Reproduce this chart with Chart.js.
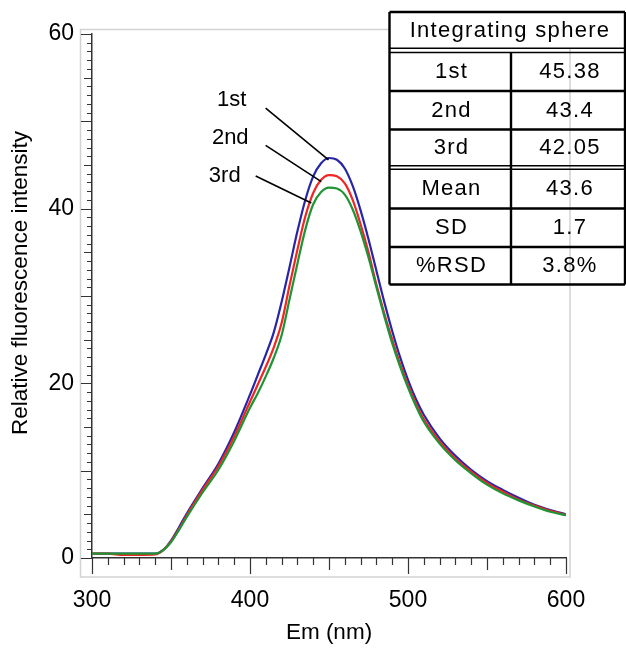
<!DOCTYPE html>
<html><head><meta charset="utf-8">
<script src="https://cdn.jsdelivr.net/npm/chart.js@4.4.1/dist/chart.umd.min.js"></script>
<style>html,body{margin:0;padding:0;background:#fff}#wrap{width:626px;height:648px;position:relative}</style>
</head><body><div id="wrap"><canvas id="c" width="626" height="648"></canvas></div>
<script>
// ---- data ----
const wavelengths = [300,310,320,330,340,345,350,355,360,370,380,390,400,405,410,415,420,425,430,435,440,445,450,455,460,465,470,475,480,485,490,495,500,505,510,520,530,540,550,560,570,580,590,600];
const run1st = [0.5,0.5,0.5,0.5,0.5,0.9,2.0,3.5,5.1,8.0,10.8,14.4,18.7,21.0,23.3,25.8,29.3,33.3,37.4,41.0,43.7,45.2,45.8,45.6,44.6,42.6,39.8,36.5,32.9,29.3,26.0,23.0,20.4,18.2,16.4,13.7,11.7,10.1,8.8,7.8,6.9,6.1,5.5,5.0];
const run2nd = [0.5,0.5,0.35,0.35,0.4,0.9,1.9,3.3,4.9,7.8,10.5,13.9,17.9,19.9,21.9,24.1,26.9,31.2,35.3,39.1,41.8,43.3,43.85,43.7,42.9,41.0,38.2,35.0,31.3,28.0,25.0,22.2,19.8,17.7,15.9,13.35,11.4,9.9,8.6,7.6,6.7,6.0,5.4,4.95];
const run3rd = [0.5,0.5,0.5,0.5,0.5,0.9,1.8,3.2,4.7,7.5,10.1,13.4,17.2,18.9,20.8,22.9,25.5,29.6,33.7,37.6,40.5,41.9,42.4,42.3,41.6,39.9,37.4,34.4,31.0,27.7,24.6,21.9,19.5,17.4,15.6,13.1,11.2,9.7,8.4,7.4,6.6,5.9,5.3,4.9];
const seriesNames = ['1st','2nd','3rd'];
const xTickLabels = [300,400,500,600];
const yTickLabels = [0,20,40,60];
const xTitle = 'Em (nm)';
const yTitle = 'Relative fluorescence intensity';
const tableHeader = 'Integrating sphere';
const tableRunNames = ['1st','2nd','3rd'];
const tableRunValues = ['45.38','43.4','42.05'];
const tableStatNames = ['Mean','SD','%RSD'];
const tableStatValues = ['43.6','1.7','3.8%'];

// ---- style / layout ----
const FONT = "'Liberation Sans', Arial, sans-serif";
const colors = ['#2626a6','#f22424','#1f9434'];
const callouts = [ // data-unit anchors for labels and leader lines
  {text:[388.4,52.4], from:[409.9,51.5], to:[449.7,45.6]},
  {text:[387.5,48.1], from:[409.9,47.25], to:[445.1,43.1]},
  {text:[384.0,43.8], from:[403.6,43.75], to:[438.8,40.65]}
];

const toPts = arr => wavelengths.map((w,i)=>({x:w,y:arr[i]}));
const runs = [run1st, run2nd, run3rd];

const decor = {
  id:'decor',
  beforeDraw(chart){
    const ctx = chart.ctx;
    ctx.save();
    ctx.fillStyle='#fff'; ctx.fillRect(0,0,chart.width,chart.height);
    ctx.strokeStyle='#d2d2d2'; ctx.lineWidth=1.5;
    ctx.strokeRect(80.5,29.5,489.5,547.5);
    ctx.restore();
  },
  afterDraw(chart){
    const {ctx, scales:{x,y}} = chart;
    ctx.save();
    // y axis title
    ctx.save();
    ctx.fillStyle='#000'; ctx.font='22.5px '+FONT; ctx.textAlign='center'; ctx.textBaseline='middle';
    ctx.translate(20.5, 283); ctx.rotate(-Math.PI/2);
    ctx.fillText(yTitle, 0, 0);
    ctx.restore();
    // tick marks
    ctx.strokeStyle='#333'; ctx.lineWidth=1.2;
    ctx.beginPath();
    for (let v=x.min; v<=x.max; v+=10){
      const px=Math.round(x.getPixelForValue(v))+0.5;
      const len = v%100===0?16:(v%50===0?12:7);
      ctx.moveTo(px,y.bottom); ctx.lineTo(px,y.bottom+len);
    }
    for (let v=y.min; v<=y.max; v+=1){
      const py=Math.round(y.getPixelForValue(v))+0.5;
      const len = v%10===0?11:(v%5===0?8:5);
      ctx.moveTo(x.left-len,py); ctx.lineTo(x.left,py);
    }
    ctx.stroke();
    // callouts
    ctx.strokeStyle='#000'; ctx.lineWidth=1.6; ctx.fillStyle='#000';
    ctx.font = '22px '+FONT; ctx.textAlign='center'; ctx.textBaseline='middle';
    callouts.forEach((c,i)=>{
      ctx.beginPath();
      ctx.moveTo(x.getPixelForValue(c.from[0]), y.getPixelForValue(c.from[1]));
      ctx.lineTo(x.getPixelForValue(c.to[0]), y.getPixelForValue(c.to[1]));
      ctx.stroke();
      ctx.fillText(seriesNames[i], x.getPixelForValue(c.text[0]), y.getPixelForValue(c.text[1]));
    });
    // table
    const L=389.5, M=511, R=625, top=12;
    ctx.fillStyle='#fff'; ctx.fillRect(L,top,R-L,36.5);
    ctx.strokeStyle='#000';
    ctx.lineWidth=2.4;
    ctx.beginPath();
    ctx.moveTo(L,top); ctx.lineTo(R,top);
    ctx.moveTo(L,top); ctx.lineTo(L,284.5);
    ctx.moveTo(R,top); ctx.lineTo(R,284.5);
    ctx.moveTo(L,284.5); ctx.lineTo(R,284.5);
    ctx.moveTo(M,52.5); ctx.lineTo(M,284.5);
    [91,129.5,208.5,247].forEach(yy=>{ctx.moveTo(L,yy);ctx.lineTo(R,yy);});
    ctx.stroke();
    ctx.lineWidth=1.5;
    ctx.beginPath();
    [48.3,52.5,165.7,169.2].forEach(yy=>{ctx.moveTo(L,yy);ctx.lineTo(R,yy);});
    ctx.stroke();
    ctx.fillStyle='#000';
    ctx.font='22px '+FONT; ctx.textAlign='center'; ctx.textBaseline='middle';
    try{ ctx.letterSpacing='1.3px'; }catch(e){}
    const lc=451.5, rc=570;
    ctx.fillText(tableHeader, 510, 31);
    const rowC=[72,110.5,148];
    tableRunNames.forEach((t,i)=>{ctx.fillText(t,lc,rowC[i]); ctx.fillText(tableRunValues[i],rc,rowC[i]);});
    const rowC2=[189,228,266];
    tableStatNames.forEach((t,i)=>{ctx.fillText(t,lc,rowC2[i]); ctx.fillText(tableStatValues[i],rc,rowC2[i]);});
    ctx.restore();
  }
};

new Chart(document.getElementById('c'), {
  type:'line',
  data:{
    datasets: runs.map((r,i)=>({
      label: seriesNames[i], data: toPts(r), borderColor: colors[i], backgroundColor: colors[i],
      borderWidth: 2.2, pointRadius: 0, cubicInterpolationMode:'monotone', fill:false, order: 3-i
    }))
  },
  options:{
    responsive:false, animation:false, devicePixelRatio:1,
    layout:{padding:{top:34,right:60,left:0,bottom:0}},
    plugins:{legend:{display:false}, tooltip:{enabled:false}},
    scales:{
      x:{type:'linear', min:300, max:600,
        afterFit(s){ s.height=90; },
        afterBuildTicks(s){ s.ticks = xTickLabels.map(v=>({value:v})); },
        grid:{display:false, drawTicks:false}, border:{display:true,color:'#333',width:1.5},
        ticks:{color:'#000', font:{family:FONT,size:23}, padding:29, maxRotation:0, autoSkip:false},
        title:{display:true, text:xTitle, color:'#000', font:{family:FONT,size:22.5}, padding:{top:0,bottom:1.5}}
      },
      y:{type:'linear', min:0, max:60,
        afterFit(s){ s.width=92; },
        afterBuildTicks(s){ s.ticks = yTickLabels.map(v=>({value:v})); },
        grid:{display:false, drawTicks:false}, border:{display:true,color:'#333',width:1.5},
        ticks:{color:'#000', font:{family:FONT,size:23}, padding:18, autoSkip:false},
        title:{display:false, text:yTitle}
      }
    }
  },
  plugins:[decor]
});
</script></body></html>
